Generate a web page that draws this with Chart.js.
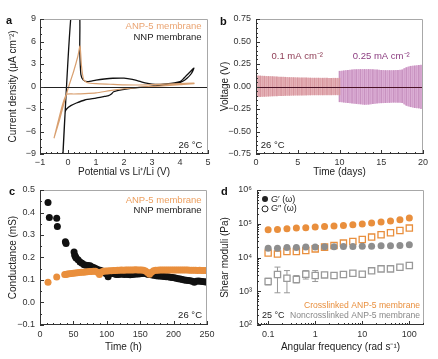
<!DOCTYPE html>
<html>
<head>
<meta charset="utf-8">
<script src="https://cdn.jsdelivr.net/npm/chart.js@4.4.1/dist/chart.umd.min.js"></script>
<style>
  body { margin: 0; background: #fff; }
  #fig { position: relative; width: 438px; height: 359px; overflow: hidden; font-family: Arial, "Liberation Sans", sans-serif; }
  #fig canvas { position: absolute; }
  .tag { position: absolute; font-weight: bold; font-size: 11px; color: #111; line-height: 1; }
</style>
</head>
<body>
<div id="fig">
  <canvas id="cA" width="219" height="178" style="left:0;top:0"></canvas>
  <canvas id="cB" width="219" height="178" style="left:219px;top:0"></canvas>
  <canvas id="cC" width="219" height="178" style="left:0;top:178px"></canvas>
  <canvas id="cD" width="219" height="178" style="left:219px;top:178px"></canvas>
  <div class="tag" style="left:6px;top:15px">a</div>
  <div class="tag" style="left:220px;top:16px">b</div>
  <div class="tag" style="left:9px;top:186px">c</div>
  <div class="tag" style="left:221px;top:186px">d</div>
</div>
<script>
// ---------- a: CV curves ----------
const aNnpX = [-0.2, 0.13, 0.40, 0.42, 0.46, 0.55, 0.7, 1.0, 1.3, 1.6, 2.0, 2.3, 2.6, 2.8, 3.0, 3.2, 3.5, 3.8, 4.0, 4.1, 4.2, 4.35, 4.5, 4.4, 4.25, 4.1, 3.9, 3.6, 3.2, 2.8, 2.3, 1.9, 1.63, 1.55, 1.45, 1.3, 1.0, 0.6, 0.3, 0.1, -0.05, -0.1, -0.2];
const aNnpY = [-10.4, 10.4, 10.4, 5.0, 1.6, 0.85, 0.65, 0.85, 1.0, 1.1, 1.12, 0.95, 0.65, 0.45, 0.33, 0.27, 0.35, 0.48, 0.65, 0.95, 1.35, 1.9, 2.45, 1.7, 1.1, 0.7, 0.4, 0.25, 0.15, -0.05, -0.2, -0.45, -0.7, -1.0, -1.22, -1.33, -1.55, -1.8, -2.2, -2.55, -3.0, -3.4, -10.4];
const aAnpX = [-0.5, -0.3, -0.1, 0.05, 0.2, 0.35, 0.43, 0.48, 0.56, 0.7, 1.0, 1.5, 2.0, 2.5, 3.0, 3.5, 4.0, 4.5, 4.5, 4.0, 3.5, 3.0, 2.5, 2.0, 1.5, 1.0, 0.6, 0.2, -0.05, -0.2, -0.5];
const aAnpY = [-6.9, -4.4, -1.6, 0.3, 2.0, 4.0, 5.4, 2.8, 0.9, 0.5, 0.38, 0.3, 0.22, 0.2, 0.25, 0.32, 0.4, 0.45, 0.38, 0.25, 0.12, 0.0, -0.12, -0.3, -0.55, -0.85, -0.95, -1.0, -1.05, -2.5, -6.9];
const aXTicks = [-1, 0, 1, 2, 3, 4, 5];
const aXLabels = ["−1", "0", "1", "2", "3", "4", "5"];
const aYTicks = [-9, -6, -3, 0, 3, 6, 9];
const aYLabels = ["−9", "−6", "−3", "0", "3", "6", "9"];

// ---------- b: voltage envelope (0.5 day steps) ----------
const bDays1 = [0, 0.5, 1, 1.5, 2, 2.5, 3, 3.5, 4, 4.5, 5, 5.5, 6, 6.5, 7, 7.5, 8, 8.5, 9, 9.5, 10];
const bTop1 = [0.12, 0.118, 0.115, 0.112, 0.11, 0.107, 0.105, 0.103, 0.1, 0.099, 0.098, 0.097, 0.096, 0.095, 0.094, 0.094, 0.093, 0.093, 0.092, 0.092, 0.092];
const bBot1 = [-0.115, -0.112, -0.11, -0.108, -0.106, -0.104, -0.102, -0.1, -0.099, -0.098, -0.097, -0.096, -0.095, -0.095, -0.094, -0.094, -0.094, -0.093, -0.093, -0.093, -0.093];
const bDays2 = [10, 10.5, 11, 11.5, 12, 12.5, 13, 13.5, 14, 14.5, 15, 15.5, 16, 16.5, 17, 17.5, 18, 18.5, 19, 19.5, 20];
const bTop2 = [0.17, 0.175, 0.18, 0.185, 0.188, 0.19, 0.19, 0.19, 0.188, 0.185, 0.18, 0.178, 0.178, 0.178, 0.18, 0.185, 0.21, 0.225, 0.23, 0.235, 0.24];
const bBot2 = [-0.17, -0.175, -0.18, -0.185, -0.19, -0.195, -0.2, -0.198, -0.192, -0.185, -0.182, -0.18, -0.178, -0.176, -0.176, -0.18, -0.21, -0.225, -0.235, -0.24, -0.25];
// cycle marks in between
const bCycles1 = [0.25, 0.75, 1.25, 1.75, 2.25, 2.75, 3.25, 3.75, 4.25, 4.75, 5.25, 5.75, 6.25, 6.75, 7.25, 7.75, 8.25, 8.75, 9.25, 9.75];
const bCycles2 = [10.25, 10.75, 11.25, 11.75, 12.25, 12.75, 13.25, 13.75, 14.25, 14.75, 15.25, 15.75, 16.25, 16.75, 17.25, 17.75, 18.25, 18.75, 19.25, 19.75];
const bCycTop1 = [0.119, 0.116, 0.113, 0.111, 0.108, 0.106, 0.104, 0.101, 0.1, 0.098, 0.097, 0.096, 0.095, 0.094, 0.094, 0.093, 0.093, 0.092, 0.092, 0.092];
const bCycBot1 = [-0.113, -0.111, -0.109, -0.107, -0.105, -0.103, -0.101, -0.099, -0.098, -0.097, -0.096, -0.095, -0.095, -0.094, -0.094, -0.094, -0.093, -0.093, -0.093, -0.093];
const bCycTop2 = [0.172, 0.178, 0.183, 0.187, 0.189, 0.19, 0.19, 0.189, 0.186, 0.182, 0.179, 0.178, 0.178, 0.179, 0.182, 0.2, 0.218, 0.228, 0.232, 0.238];
const bCycBot2 = [-0.172, -0.178, -0.183, -0.188, -0.193, -0.198, -0.199, -0.195, -0.188, -0.183, -0.181, -0.179, -0.177, -0.176, -0.178, -0.195, -0.218, -0.23, -0.238, -0.245];
const bXTicks = [0, 5, 10, 15, 20];
const bXLabels = ["0", "5", "10", "15", "20"];
const bYTicks = [-0.75, -0.5, -0.25, 0, 0.25, 0.5, 0.75];
const bYLabels = ["−0.75", "−0.50", "−0.25", "0.00", "0.25", "0.50", "0.75"];

// ---------- c: conductance vs time ----------
const cNnpT = [12, 14, 25, 26, 38, 39, 51, 52, 53, 54, 57, 60, 63, 66, 69, 72, 75, 78, 81, 84, 87, 90, 93, 96, 99, 102, 105, 108, 111, 114, 117, 120, 123, 126, 129, 132, 135, 138, 141, 144, 147, 150, 153, 156, 159, 162, 165, 168, 171, 174, 177, 180, 183, 186, 189, 192, 195, 198, 201, 204, 207, 210, 213, 216, 219, 222, 225, 228, 231, 234, 237, 240, 243, 246, 249];
const cNnpG = [0.445, 0.378, 0.375, 0.338, 0.27, 0.262, 0.224, 0.21, 0.204, 0.198, 0.19, 0.18, 0.174, 0.168, 0.166, 0.165, 0.163, 0.158, 0.154, 0.15, 0.146, 0.143, 0.14, 0.135, 0.128, 0.115, 0.128, 0.13, 0.128, 0.125, 0.124, 0.126, 0.127, 0.125, 0.126, 0.124, 0.123, 0.124, 0.126, 0.127, 0.127, 0.128, 0.129, 0.13, 0.128, 0.125, 0.124, 0.122, 0.121, 0.119, 0.118, 0.118, 0.117, 0.116, 0.115, 0.114, 0.112, 0.111, 0.11, 0.108, 0.106, 0.104, 0.102, 0.1, 0.099, 0.098, 0.097, 0.095, 0.09, 0.094, 0.096, 0.095, 0.093, 0.092, 0.091];
const cAnpT = [12, 25, 37, 39, 41, 44, 47, 50, 53, 56, 59, 62, 65, 68, 71, 74, 77, 80, 83, 86, 89, 92, 95, 98, 101, 104, 107, 110, 113, 116, 119, 122, 125, 128, 131, 134, 137, 140, 143, 146, 149, 152, 155, 158, 161, 164, 167, 170, 173, 176, 179, 182, 185, 188, 191, 194, 197, 200, 203, 206, 209, 212, 215, 218, 221, 224, 227, 230, 233, 236, 239, 242, 245, 248];
const cAnpG = [0.09, 0.113, 0.124, 0.125, 0.127, 0.128, 0.129, 0.13, 0.131, 0.132, 0.133, 0.134, 0.135, 0.136, 0.137, 0.138, 0.138, 0.139, 0.139, 0.135, 0.124, 0.136, 0.139, 0.14, 0.14, 0.141, 0.141, 0.142, 0.142, 0.143, 0.143, 0.144, 0.143, 0.144, 0.145, 0.145, 0.144, 0.145, 0.146, 0.145, 0.145, 0.144, 0.143, 0.14, 0.133, 0.126, 0.135, 0.141, 0.143, 0.143, 0.144, 0.144, 0.144, 0.144, 0.145, 0.145, 0.144, 0.144, 0.145, 0.145, 0.144, 0.144, 0.145, 0.144, 0.144, 0.143, 0.143, 0.143, 0.143, 0.142, 0.143, 0.142, 0.142, 0.142];
const cXTicks = [0, 50, 100, 150, 200, 250];
const cXLabels = ["0", "50", "100", "150", "200", "250"];
const cYTicks = [-0.1, 0, 0.1, 0.2, 0.3, 0.4, 0.5];
const cYLabels = ["−0.1", "0.0", "0.1", "0.2", "0.3", "0.4", "0.5"];

// ---------- d: rheology ----------
const dFreq = [0.1, 0.158, 0.251, 0.398, 0.631, 1, 1.58, 2.51, 3.98, 6.31, 10, 15.8, 25.1, 39.8, 63.1, 100];
const dCrossG1 = [66400, 68000, 71000, 74300, 76000, 79600, 83300, 85300, 89200, 93400, 97800, 104700, 112000, 120000, 131500, 147000];
const dCrossG2 = [13500, 12600, 15100, 15100, 16100, 18000, 20300, 22700, 26700, 29900, 34300, 40200, 47100, 54000, 63400, 74300];
const dNonG1 = [18900, 18900, 19800, 19800, 20300, 20300, 20700, 20700, 21200, 21200, 21700, 21700, 22200, 22200, 22700, 23800];
const dNonG2 = [1940, 3130, 2430, 2220, 3200, 2920, 3050, 2920, 3130, 3430, 3200, 4020, 4600, 4600, 5160, 5780];
const dNonG2Lo = [1540, 900, 900, 1770, 2300, 1940, null, null, null, null, null, null, null, null, null, null];
const dNonG2Hi = [2430, 5200, 4100, 2920, 4100, 4100, null, null, null, null, null, null, null, null, null, null];
const dXTicks = [0.1, 1, 10, 100];
const dXLabels = ["0.1", "1", "10", "100"];
const dYTicks = [1e2, 1e3, 1e4, 1e5, 1e6];
const dYLabels = ["10²", "10³", "10⁴", "10⁵", "10⁶"];

const ORANGE = "#e98f3d";
const GREY = "#8e8e8e";
const FONT = 'Arial, "Liberation Sans", sans-serif';

Chart.defaults.font.family = FONT;
Chart.defaults.font.size = 9;
Chart.defaults.color = "#333";

const pts = (xs, ys) => xs.map((x, i) => ({ x, y: ys[i] }));

// minor tick positions
function minorVals(scale, step) {
  const out = [];
  if (step === "log") {
    for (let e = Math.floor(Math.log10(scale.min)); e <= Math.ceil(Math.log10(scale.max)); e++) {
      for (let k = 2; k < 10; k++) {
        const v = k * Math.pow(10, e);
        if (v >= scale.min && v <= scale.max) out.push(v);
      }
    }
  } else {
    const n0 = Math.ceil(scale.min / step - 1e-6), n1 = Math.floor(scale.max / step + 1e-6);
    for (let n = n0; n <= n1; n++) out.push(n * step);
  }
  return out;
}

// frame, ticks, zero line, error bars and texts
const decor = {
  id: "decor",
  beforeDatasetsDraw(chart, args, o) {
    if (!o.err) return;
    const { ctx } = chart;
    const sx = chart.scales.x, sy = chart.scales.y;
    ctx.save();
    ctx.strokeStyle = o.err.color;
    ctx.lineWidth = 1;
    o.err.x.forEach((v, i) => {
      if (o.err.lo[i] == null) return;
      const px = sx.getPixelForValue(v);
      const p1 = sy.getPixelForValue(o.err.lo[i]), p2 = sy.getPixelForValue(o.err.hi[i]);
      ctx.beginPath();
      ctx.moveTo(px, p1); ctx.lineTo(px, p2);
      ctx.moveTo(px - 3, p1); ctx.lineTo(px + 3, p1);
      ctx.moveTo(px - 3, p2); ctx.lineTo(px + 3, p2);
      ctx.stroke();
    });
    ctx.restore();
  },
  afterDatasetsDraw(chart, args, o) {
    const { ctx, chartArea: a } = chart;
    const sx = chart.scales.x, sy = chart.scales.y;
    ctx.save();
    if (o.zero) {
      const py = Math.round(sy.getPixelForValue(0)) + 0.5;
      ctx.strokeStyle = o.zero;
      ctx.lineWidth = 1.1;
      ctx.beginPath(); ctx.moveTo(a.left, py); ctx.lineTo(a.right, py); ctx.stroke();
    }
    ctx.lineWidth = 1;
    ctx.strokeStyle = "#a8a8a8";
    ctx.beginPath();
    ctx.moveTo(a.left, a.top + 0.5); ctx.lineTo(a.right - 0.5, a.top + 0.5); ctx.lineTo(a.right - 0.5, a.bottom);
    ctx.stroke();
    ctx.strokeStyle = "#333";
    ctx.beginPath();
    ctx.moveTo(a.left + 0.5, a.top); ctx.lineTo(a.left + 0.5, a.bottom - 0.5); ctx.lineTo(a.right, a.bottom - 0.5);
    ctx.stroke();
    const xt = (v, len) => {
      const px = Math.round(sx.getPixelForValue(v)) + 0.5;
      ctx.moveTo(px, a.bottom); ctx.lineTo(px, a.bottom - len);
    };
    const yt = (v, len) => {
      const py = Math.round(sy.getPixelForValue(v)) + 0.5;
      ctx.moveTo(a.left, py); ctx.lineTo(a.left + len, py);
    };
    ctx.beginPath();
    minorVals(sx, o.minorX).forEach(v => xt(v, 2));
    minorVals(sy, o.minorY).forEach(v => yt(v, 2));
    sx.ticks.forEach(t => xt(t.value, 4));
    sy.ticks.forEach(t => yt(t.value, 4));
    ctx.stroke();
    ctx.textBaseline = "middle";
    (o.notes || []).forEach(n => {
      let x = a.left + n.fx * (a.right - a.left);
      const y = a.top + n.fy * (a.bottom - a.top);
      ctx.fillStyle = n.c || "#222";
      ctx.textAlign = n.al || "left";
      if (n.mk) {
        ctx.beginPath();
        ctx.arc(x, y, 3, 0, Math.PI * 2);
        ctx.lineWidth = 1;
        ctx.strokeStyle = "#222";
        if (n.mk === "dot") ctx.fill(); else ctx.stroke();
        x += 6;
      }
      (n.parts || [{ t: n.t }]).forEach(p => {
        ctx.font = (p.it ? "italic " : "") + (n.sz || 9.5) + "px " + FONT;
        ctx.fillText(p.t, x, y);
        x += ctx.measureText(p.t).width;
      });
    });
    ctx.restore();
  }
};
Chart.register(decor);

function axis(o) {
  return {
    type: o.type || "linear", position: o.pos, min: o.min, max: o.max, offset: false,
    grid: { display: false, drawTicks: false }, border: { display: false },
    ticks: { autoSkip: false, maxRotation: 0, padding: o.tickPad, color: "#333", font: { size: 9 },
      callback: (v, i) => o.labels[i] },
    title: { display: true, text: o.title, color: "#222", font: { size: 10 }, padding: o.titlePad },
    afterBuildTicks: s => { s.ticks = o.ticks.map(v => ({ value: v })); },
    afterFit: s => { if (o.pos === "bottom") s.height = o.size; else s.width = o.size; }
  };
}

function baseOptions(pad, x, y, decorOpts) {
  return {
    responsive: false, animation: false, events: [],
    layout: { padding: pad },
    plugins: { legend: { display: false }, tooltip: { enabled: false }, decor: decorOpts },
    scales: { x: axis(x), y: axis(y) }
  };
}

// ---------- a ----------
new Chart(document.getElementById("cA"), {
  type: "line",
  data: { datasets: [
    { data: pts(aAnpX, aAnpY), borderColor: "#d9a070", borderWidth: 1.2, pointRadius: 0, tension: 0.2 },
    { data: pts(aNnpX, aNnpY), borderColor: "#111", borderWidth: 1.3, pointRadius: 0, tension: 0.2 }
  ] },
  options: baseOptions({ left: 0, top: 19, right: 11, bottom: 0 },
    { pos: "bottom", min: -1, max: 5, ticks: aXTicks, labels: aXLabels, title: "Potential vs Li⁺/Li (V)", size: 24, tickPad: 3, titlePad: { top: 0, bottom: 0 } },
    { pos: "left", min: -9, max: 9, ticks: aYTicks, labels: aYLabels, title: "Current density (μA cm⁻²)", size: 40, tickPad: 4, titlePad: { top: 7, bottom: 0 } },
    { zero: "#222", minorX: 0.2, minorY: 1, notes: [
      { t: "ANP-5 membrane", fx: 0.962, fy: 0.057, al: "right", c: "#eaa472" },
      { t: "NNP membrane", fx: 0.962, fy: 0.136, al: "right", c: "#222" },
      { t: "26 °C", fx: 0.967, fy: 0.933, al: "right", c: "#222" }
    ] })
});

// ---------- b ----------
const bars = (xs, lo, hi) => xs.map((x, i) => ({ x, y: [lo[i], hi[i]] }));
new Chart(document.getElementById("cB"), {
  type: "line",
  data: { datasets: [
    { type: "bar", data: bars(bDays1, bBot1, bTop1), backgroundColor: "#d7979f", barThickness: 1, grouped: false },
    { type: "bar", data: bars(bCycles1, bCycBot1, bCycTop1), backgroundColor: "#dea5ab", barThickness: 1, grouped: false },
    { type: "bar", data: bars(bDays2, bBot2, bTop2), backgroundColor: "#c892c0", barThickness: 1, grouped: false },
    { type: "bar", data: bars(bCycles2, bCycBot2, bCycTop2), backgroundColor: "#d2a0cb", barThickness: 1, grouped: false },
    { data: pts(bDays1, bTop1), borderWidth: 0, pointRadius: 0, fill: "+1", backgroundColor: "#f0c6ca" },
    { data: pts(bDays1, bBot1), borderWidth: 0, pointRadius: 0, fill: false },
    { data: pts(bDays2, bTop2), borderWidth: 0, pointRadius: 0, fill: "+1", backgroundColor: "#e8c2e2" },
    { data: pts(bDays2, bBot2), borderWidth: 0, pointRadius: 0, fill: false }
  ] },
  options: baseOptions({ left: 0, top: 19, right: 15, bottom: 0 },
    { pos: "bottom", min: 0, max: 20, ticks: bXTicks, labels: bXLabels, title: "Time (days)", size: 24, tickPad: 3, titlePad: { top: 0, bottom: 0 } },
    { pos: "left", min: -0.75, max: 0.75, ticks: bYTicks, labels: bYLabels, title: "Voltage (V)", size: 37, tickPad: 5, titlePad: { top: 0, bottom: 0 } },
    { zero: "#4a1226", minorX: 1, minorY: 0.05, notes: [
      { t: "0.1 mA cm⁻²", fx: 0.247, fy: 0.279, al: "center", c: "#8e3c55" },
      { t: "0.25 mA cm⁻²", fx: 0.75, fy: 0.279, al: "center", c: "#8c3d80" },
      { t: "26 °C", fx: 0.028, fy: 0.935, al: "left", c: "#222" }
    ] })
});

// ---------- c ----------
new Chart(document.getElementById("cC"), {
  type: "scatter",
  data: { datasets: [
    { data: pts(cAnpT, cAnpG), backgroundColor: ORANGE, borderWidth: 0, pointRadius: 3.5 },
    { data: pts(cNnpT, cNnpG), backgroundColor: "#111", borderWidth: 0, pointRadius: 3.5 }
  ] },
  options: baseOptions({ left: 0, top: 12, right: 12, bottom: 0 },
    { pos: "bottom", min: 0, max: 250, ticks: cXTicks, labels: cXLabels, title: "Time (h)", size: 31, tickPad: 4, titlePad: { top: 0, bottom: 3 } },
    { pos: "left", min: -0.1, max: 0.5, ticks: cYTicks, labels: cYLabels, title: "Conductance (mS)", size: 40, tickPad: 5, titlePad: { top: 7, bottom: 0 } },
    { minorX: 10, minorY: 0.05, notes: [
      { t: "ANP-5 membrane", fx: 0.968, fy: 0.074, al: "right", c: "#eda060" },
      { t: "NNP membrane", fx: 0.968, fy: 0.148, al: "right", c: "#222" },
      { t: "26 °C", fx: 0.97, fy: 0.93, al: "right", c: "#222" }
    ] })
});

// ---------- d ----------
new Chart(document.getElementById("cD"), {
  type: "scatter",
  data: { datasets: [
    { data: pts(dFreq, dCrossG1), backgroundColor: ORANGE, borderWidth: 0, pointRadius: 3.5 },
    { data: pts(dFreq, dNonG1), backgroundColor: GREY, borderWidth: 0, pointRadius: 3.5 },
    { data: pts(dFreq, dCrossG2), pointStyle: "rect", backgroundColor: "#fff", borderColor: ORANGE, borderWidth: 1.3, pointRadius: 4.4 },
    { data: pts(dFreq, dNonG2), pointStyle: "rect", backgroundColor: "#fff", borderColor: "#999", borderWidth: 1.3, pointRadius: 4.4 }
  ] },
  options: baseOptions({ left: 0, top: 12, right: 14, bottom: 0 },
    { type: "logarithmic", pos: "bottom", min: 0.058, max: 205, ticks: dXTicks, labels: dXLabels, title: "Angular frequency (rad s⁻¹)", size: 31, tickPad: 4, titlePad: { top: 0, bottom: 3 } },
    { type: "logarithmic", pos: "left", min: 100, max: 1e6, ticks: dYTicks, labels: dYLabels, title: "Shear moduli (Pa)", size: 38, tickPad: 5, titlePad: { top: 0, bottom: 0 } },
    { minorX: "log", minorY: "log",
      err: { x: dFreq, lo: dNonG2Lo, hi: dNonG2Hi, color: "#999" },
      notes: [
        { mk: "dot", parts: [{ t: "G", it: true }, { t: "′ (ω)" }], fx: 0.048, fy: 0.067, c: "#222", sz: 9 },
        { mk: "ring", parts: [{ t: "G", it: true }, { t: "″ (ω)" }], fx: 0.048, fy: 0.14, c: "#222", sz: 9 },
        { t: "Crosslinked ANP-5 membrane", fx: 0.976, fy: 0.857, al: "right", c: ORANGE, sz: 8.6 },
        { t: "Noncrosslinked ANP-5 membrane", fx: 0.976, fy: 0.93, al: "right", c: "#888", sz: 8.6 },
        { t: "25 °C", fx: 0.03, fy: 0.93, al: "left", c: "#222", sz: 9 }
      ] })
});
</script>
</body>
</html>
